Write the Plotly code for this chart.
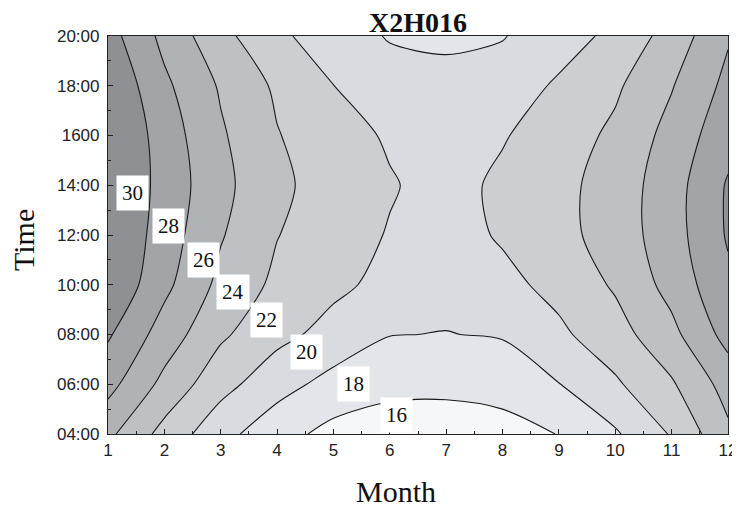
import plotly.graph_objects as go

# ---- data ----
months = [1, 2, 3, 4, 5, 6, 7, 8, 9, 10, 11, 12]
hours = [4, 6, 8, 10, 12, 14, 16, 18, 20]
hour_tick_text = ["04:00", "06:00", "08:00", "10:00", "12:00", "14:00", "1600", "18:00", "20:00"]

z_h04 = [25.45, 22.32, 19.68, 17.73, 16.4, 15.9, 15.9, 16.3, 17.05, 18.75, 21.17, 24.6]
z_h06 = [27.66, 24.44, 21.68, 19.77, 18.3, 17.6, 17.5, 17.7, 18.95, 20.71, 22.77, 25.8]
z_h08 = [29.25, 26.1, 23.33, 21.56, 20.33, 19.05, 18.95, 19.15, 20.62, 22.18, 24.45, 27.7]
z_h10 = [30.8, 27.5, 24.47, 22.57, 21.42, 20.45, 19.6, 20.46, 21.59, 23.25, 25.69, 28.6]
z_h12 = [31.1, 28.03, 25.16, 23.06, 21.91, 20.87, 20.2, 21.22, 22.37, 23.89, 26.14, 29.2]
z_h14 = [31.2, 28.28, 25.56, 23.39, 22.18, 21.16, 20.3, 21.39, 22.42, 23.88, 26.14, 29.2]
z_h16 = [31.3, 28.05, 25.26, 23.1, 21.83, 20.76, 20.0, 20.85, 22.01, 23.41, 25.68, 28.3]
z_h18 = [30.8, 27.4, 24.78, 22.67, 21.02, 19.9, 19.5, 19.9, 21.29, 22.68, 24.88, 27.53]
z_h20 = [29.8, 26.45, 23.6, 21.4, 19.97, 18.85, 18.7, 18.9, 20.1, 21.5, 23.8, 26.8]
z_rows = [z_h04, z_h06, z_h08, z_h10, z_h12, z_h14, z_h16, z_h18, z_h20]

level_start = 17
level_end = 29
level_step = 2
band_labels = ["30", "28", "26", "24", "22", "20", "18", "16"]

# ---- styles / layout constants ----
band_colors = ["#f6f7f8", "#e2e6eb", "#d8dce1", "#cbcfd2",
               "#bec1c4", "#b0b3b6", "#a2a4a7", "#8e9093"]  # lowest band -> highest band
label_positions = [(1.435, 13.69), (2.07, 12.35), (2.70, 11.0), (3.21, 9.69),
                   (3.82, 8.58), (4.53, 7.31), (5.35, 6.01), (6.12, 4.76)]

# page body has an 8px margin, so the figure is drawn 8px in from the window corner
FIG_W, FIG_H = 732, 499
M_L, M_R, M_T, M_B = 100, 12, 28, 73

n = len(band_colors) - 1
colorscale = []
for k, c in enumerate(band_colors):
    lo = max(0.0, (k - 0.5) / n)
    hi = min(1.0, (k + 0.5) / n)
    colorscale.append([lo, c])
    colorscale.append([hi, c])

fig = go.Figure()
fig.add_trace(go.Contour(
    x=months, y=hours, z=z_rows,
    autocontour=False,
    contours=dict(start=level_start, end=level_end, size=level_step,
                  coloring="fill", showlabels=False),
    colorscale=colorscale,
    showscale=False,
    line=dict(color="#1a1a1a", width=1.1, smoothing=0.85),
    hoverinfo="skip",
))

serif = "Liberation Serif, Times New Roman, serif"
sans = "Liberation Sans, Arial, sans-serif"

annotations = []
for txt, (mx, hy) in zip(band_labels, label_positions):
    annotations.append(dict(
        x=mx, y=hy, xref="x", yref="y", text=txt, showarrow=False,
        font=dict(family=serif, size=21, color="#111"),
        bgcolor="white", borderpad=5,
    ))
# axis titles
annotations.append(dict(text="Month", x=0.5, xref="paper", xshift=-22,
                        y=0, yref="paper", yanchor="middle", yshift=-57, showarrow=False,
                        font=dict(family=serif, size=30, color="#111")))
annotations.append(dict(text="Time", x=0, xref="paper", xanchor="center", xshift=-85,
                        y=0.5, yref="paper", yshift=-5, showarrow=False, textangle=-90,
                        font=dict(family=serif, size=30, color="#111")))

fig.update_layout(
    width=FIG_W, height=FIG_H,
    margin=dict(l=M_L, r=M_R, t=M_T, b=M_B, autoexpand=False),
    paper_bgcolor="white", plot_bgcolor="white",
    title=dict(text="<b>X2H016</b>", x=0.5, xref="paper", xanchor="center",
               y=1 - 14 / FIG_H, yref="container", yanchor="middle",
               font=dict(family=serif, size=28, color="#111")),
    annotations=annotations,
    showlegend=False,
)
fig.update_xaxes(
    range=[1, 12], tickvals=months, ticktext=[str(m) for m in months],
    ticks="inside", ticklen=5, tickcolor="#222",
    minor=dict(dtick=0.5, tick0=1, ticks="inside", ticklen=3, tickcolor="#222"),
    showline=True, linecolor="#222", linewidth=1.2, mirror=True,
    showgrid=False, zeroline=False, automargin=False,
    tickfont=dict(family=sans, size=17, color="#222"),
)
fig.update_yaxes(
    range=[4, 20], tickvals=hours, ticktext=hour_tick_text,
    ticks="inside", ticklen=5, tickcolor="#222",
    minor=dict(dtick=1, tick0=4, ticks="inside", ticklen=3, tickcolor="#222"),
    showline=True, linecolor="#222", linewidth=1.2, mirror=True,
    showgrid=False, zeroline=False, ticklabelstandoff=4, automargin=False,
    tickfont=dict(family=sans, size=17, color="#222"),
)

fig.write_html("out.html")
